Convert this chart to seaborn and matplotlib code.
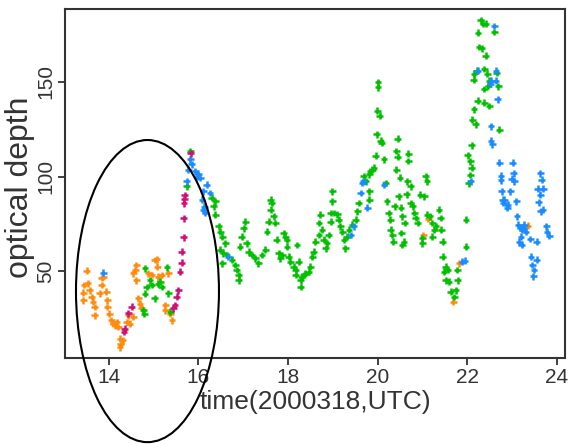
import numpy as np
import pandas as pd
import matplotlib
matplotlib.use("Agg")
import matplotlib.pyplot as plt
from matplotlib.patches import Ellipse
import seaborn as sns

# ---- data (time in hours UTC, optical depth) ----
orange_x = [13.51, 13.45, 13.43, 13.43, 13.54, 13.58, 13.62, 13.65, 13.69, 13.69,
            13.80, 13.84, 13.84, 13.88, 13.95, 13.97, 13.97, 14.01, 14.06, 14.10,
            14.14, 14.18, 14.21, 14.25, 14.27, 14.25, 14.32, 14.40, 14.44, 14.47,
            14.55, 14.55, 14.59, 14.62, 14.62, 14.66, 14.70, 14.74, 14.88, 14.96,
            15.03, 15.07, 15.08, 15.11, 15.18, 15.26, 15.26, 15.33, 15.37, 15.41,
            21.02, 21.13, 21.69, 21.82, 23.35]
orange_y = [50.2, 42.6, 38.5, 34.6, 43.6, 39.9, 36.3, 33.7, 31.0, 26.6,
            38.3, 42.6, 46.3, 47.0, 39.0, 34.6, 31.0, 27.5, 23.9, 22.2,
            21.4, 23.0, 20.4, 14.2, 11.5, 9.7, 13.3, 23.0, 26.6, 22.2,
            25.9, 48.8, 50.5, 45.2, 53.2, 35.5, 32.8, 30.2, 48.8, 47.9,
            55.8, 56.2, 52.3, 47.0, 47.9, 32.0, 29.3, 48.8, 27.5, 23.9,
            69.1, 77.7, 33.7, 54.1, 73.9]

green_x = [14.81, 14.85, 14.81, 14.92, 14.96, 15.10, 15.15, 15.18, 15.30, 15.33,
           15.03, 14.77, 14.79, 15.37, 15.82, 15.74,
           16.30, 16.38, 16.34, 16.38, 16.45, 16.49, 16.53, 16.49, 16.56, 16.60,
           16.53, 16.64, 16.75, 16.82, 16.86, 16.90, 16.90, 17.05, 17.01, 16.97,
           16.93, 17.08, 17.12, 17.19, 17.27, 17.34, 17.42, 17.49, 17.53, 17.57,
           17.61, 17.64, 17.61, 17.68, 17.72, 17.75, 17.79, 17.83, 17.90, 17.94,
           17.98, 17.98, 17.87, 18.02, 18.05, 18.13, 18.17, 18.17, 18.24, 18.20,
           18.28, 18.31, 18.35, 18.28, 18.39, 18.46, 18.50, 18.54, 18.57, 18.61,
           18.69, 18.69, 18.72, 18.76, 18.80, 18.84, 18.87, 18.91, 18.95, 18.95,
           18.99, 18.99, 19.02, 19.10, 19.13, 19.17, 19.21, 19.25, 19.28, 19.32,
           19.36, 19.43, 19.51, 19.55, 19.58, 19.69, 19.73, 19.81, 19.84, 19.92,
           19.81, 19.81, 19.96, 20.07, 20.14, 20.21, 20.25,
           20.01, 20.01, 19.99, 20.05, 19.98, 20.09, 19.88, 20.18, 20.45, 20.42,
           20.45, 20.68, 20.68, 20.42, 20.50, 20.66, 20.74, 21.07, 21.10,
           20.47, 20.65, 20.74, 20.78, 20.38, 20.52, 20.55, 20.28, 20.60, 20.29,
           20.33, 20.53, 20.35, 20.59, 20.55, 20.82, 20.85, 20.89, 20.95, 21.04,
           21.11, 21.17, 21.00, 21.00, 21.22, 21.26, 21.22, 21.30, 21.37, 21.41,
           21.42, 21.45, 21.45, 21.52, 21.48, 21.56, 21.52, 21.59, 21.63, 21.71,
           21.74, 21.79, 21.78, 21.97, 21.97,
           22.30, 22.36, 22.41, 22.24, 22.60, 22.26, 22.32, 22.41, 22.21, 22.38,
           22.15, 22.14, 22.45, 22.66, 22.49, 22.47, 22.38, 22.69, 22.23, 22.38,
           22.49, 22.15, 22.11, 22.19, 22.71, 22.10, 22.01, 22.07, 22.10, 22.07,
           22.03]
green_y = [51.4, 41.6, 38.1, 45.2, 42.6, 43.4, 44.3, 41.6, 52.0, 38.2,
           35.5, 29.3, 27.5, 28.5, 113.5, 94.8,
           88.7, 86.9, 84.2, 79.8, 73.6, 70.9, 68.2, 61.2, 59.4, 64.7,
           54.1, 58.5, 55.9, 53.2, 50.5, 47.9, 45.2, 76.2, 72.7, 68.2,
           62.9, 64.7, 60.3, 58.5, 56.8, 54.1, 58.5, 61.2, 70.9, 76.2,
           87.8, 86.0, 82.5, 78.9, 75.4, 66.5, 59.4, 56.8, 70.1, 68.2,
           66.5, 62.9, 58.5, 57.6, 55.0, 52.3, 50.5, 47.9, 55.0, 63.8,
           45.2, 47.0, 47.9, 41.6, 48.5, 49.6, 52.3, 57.6, 60.3, 65.6,
           69.1, 75.4, 79.8, 71.8, 66.5, 62.1, 64.7, 69.1, 76.2, 80.7,
           92.2, 86.9, 80.7, 80.0, 77.1, 73.6, 70.9, 66.5, 62.1, 68.2,
           71.8, 74.5, 77.1, 81.6, 86.0, 100.2, 97.5, 101.1, 102.8, 104.6,
           92.2, 87.8, 110.9, 118.9, 109.2, 86.9, 80.7,
           149.8, 147.2, 134.7, 132.1, 122.3, 117.9, 103.7, 96.6, 120.1, 113.5,
           110.5, 112.1, 108.2, 103.7, 99.3, 97.5, 94.8, 100.2, 97.5,
           89.6, 90.5, 86.0, 84.2, 84.2, 83.4, 78.9, 77.2, 75.4, 71.8,
           69.1, 70.1, 65.6, 65.6, 63.8, 80.7, 78.0, 75.4, 90.4, 89.6,
           79.8, 78.9, 67.4, 64.7, 75.4, 71.8, 68.2, 73.6, 82.4, 78.0,
           71.8, 65.6, 57.6, 52.3, 49.6, 50.5, 45.2, 44.3, 39.0, 36.3,
           39.9, 45.2, 50.5, 62.9, 77.1,
           182.6, 180.9, 180.9, 176.1, 176.4, 168.5, 167.9, 164.0, 156.0, 156.9,
           154.3, 151.2, 154.3, 155.0, 150.7, 148.0, 146.3, 147.7, 140.2, 139.1,
           137.3, 135.5, 130.1, 127.6, 124.7, 116.5, 111.2, 108.1, 104.6, 100.8,
           96.4]

blue_x = [13.88,
          15.82, 15.85, 15.78, 15.93, 16.00, 15.97, 16.04, 15.74, 16.19, 16.11,
          16.08, 16.11, 16.15, 16.13, 16.26, 16.67,
          19.40, 19.47, 19.62, 19.66, 19.77, 20.14, 19.68,
          21.89, 21.94,
          22.08, 22.60, 22.23, 22.64, 22.54, 22.64, 22.51, 22.68, 22.53, 22.53, 22.56,
          22.71, 23.01, 22.75, 22.75, 23.04, 22.99, 23.05, 23.63, 23.66, 22.77,
          22.96, 23.57, 23.70, 23.63, 22.83, 22.90, 22.89, 23.09, 23.59, 23.68,
          23.64, 23.11, 23.14, 23.27, 23.23, 23.31, 23.20, 23.76, 23.78, 23.83,
          23.41, 23.55, 23.16, 23.21, 23.42, 23.55, 23.45, 23.49, 23.47, 22.79,
          22.80, 23.18, 23.25]
blue_y = [49.1,
          109.0, 106.4, 103.7, 102.8, 101.1, 100.0, 99.3, 97.5, 95.7, 92.2,
          87.8, 82.5, 80.7, 84.0, 91.3, 57.6,
          69.1, 73.6, 91.3, 96.6, 83.4, 95.7, 97.5,
          55.0, 55.5,
          97.5, 179.6, 156.0, 156.0, 150.7, 150.7, 149.0, 140.9, 126.5, 118.9, 117.0,
          107.3, 107.3, 100.5, 98.0, 101.6, 98.8, 97.5, 101.6, 98.4, 92.2,
          92.2, 93.5, 93.5, 90.4, 87.8, 85.1, 83.4, 86.9, 86.3, 82.4,
          81.5, 78.9, 74.5, 74.5, 71.8, 70.9, 68.2, 73.6, 70.9, 68.6,
          66.9, 65.6, 65.6, 63.8, 57.6, 55.9, 53.2, 50.5, 47.3, 87.8,
          86.0, 73.0, 73.0]

magenta_x = [14.51, 14.44, 14.36, 14.34, 15.44, 15.48, 15.52, 15.55, 15.59, 15.63,
             15.63, 15.67, 15.67, 15.68, 15.69, 15.70, 15.83]
magenta_y = [31.1, 27.6, 19.6, 18.0, 30.2, 32.0, 36.4, 39.9, 49.6, 54.4,
             60.2, 67.8, 77.9, 85.8, 88.0, 90.2, 112.2]

x_ticks = [14, 16, 18, 20, 22, 24]
y_ticks = [50, 100, 150]

colors = {"orange": "#ff8c0f", "green": "#00c000", "blue": "#1a8cff", "magenta": "#cc1177"}

frames = []
for name, xs, ys in [("orange", orange_x, orange_y), ("green", green_x, green_y),
                     ("blue", blue_x, blue_y), ("magenta", magenta_x, magenta_y)]:
    frames.append(pd.DataFrame({"time": xs, "depth": ys, "group": name}))
df = pd.concat(frames, ignore_index=True)

sns.set_style("white")
plt.rcParams["font.family"] = ["Liberation Sans", "DejaVu Sans"]

fig = plt.figure(figsize=(5.68, 4.44), dpi=100)
ax = fig.add_axes([65 / 568, 1 - 358 / 444, 500 / 568, 349 / 444])

sns.scatterplot(data=df, x="time", y="depth", hue="group", palette=colors,
                marker="+", s=24, linewidth=1.8, legend=False, ax=ax)

ax.set_xlim(13.025, 24.18)
ax.set_ylim(4.0, 188.6)
ax.set_xticks(x_ticks)
ax.set_yticks(y_ticks)
ax.set_xticklabels([str(t) for t in x_ticks], fontsize=15, color="#333333")
ax.set_yticklabels([str(t) for t in y_ticks], fontsize=15, color="#333333",
                   rotation=90, va="center")
ax.tick_params(axis="both", direction="out", length=5, width=1.3, color="#333333",
               bottom=True, left=True, pad=2)
for sp in ax.spines.values():
    sp.set_color("#333333")
    sp.set_linewidth(1.5)

ax.set_xlabel("time(2000318,UTC)", fontsize=19, color="#333333", labelpad=2)
ax.set_ylabel("optical depth", fontsize=23, color="#333333")
ax.yaxis.set_label_coords(-0.06, 0.49)

ell = Ellipse((14.865, 39.4), width=3.19, height=159.8, fill=False,
              edgecolor="black", linewidth=1.5, clip_on=False, zorder=5)
ax.add_patch(ell)

fig.savefig("out.png", dpi=100)
